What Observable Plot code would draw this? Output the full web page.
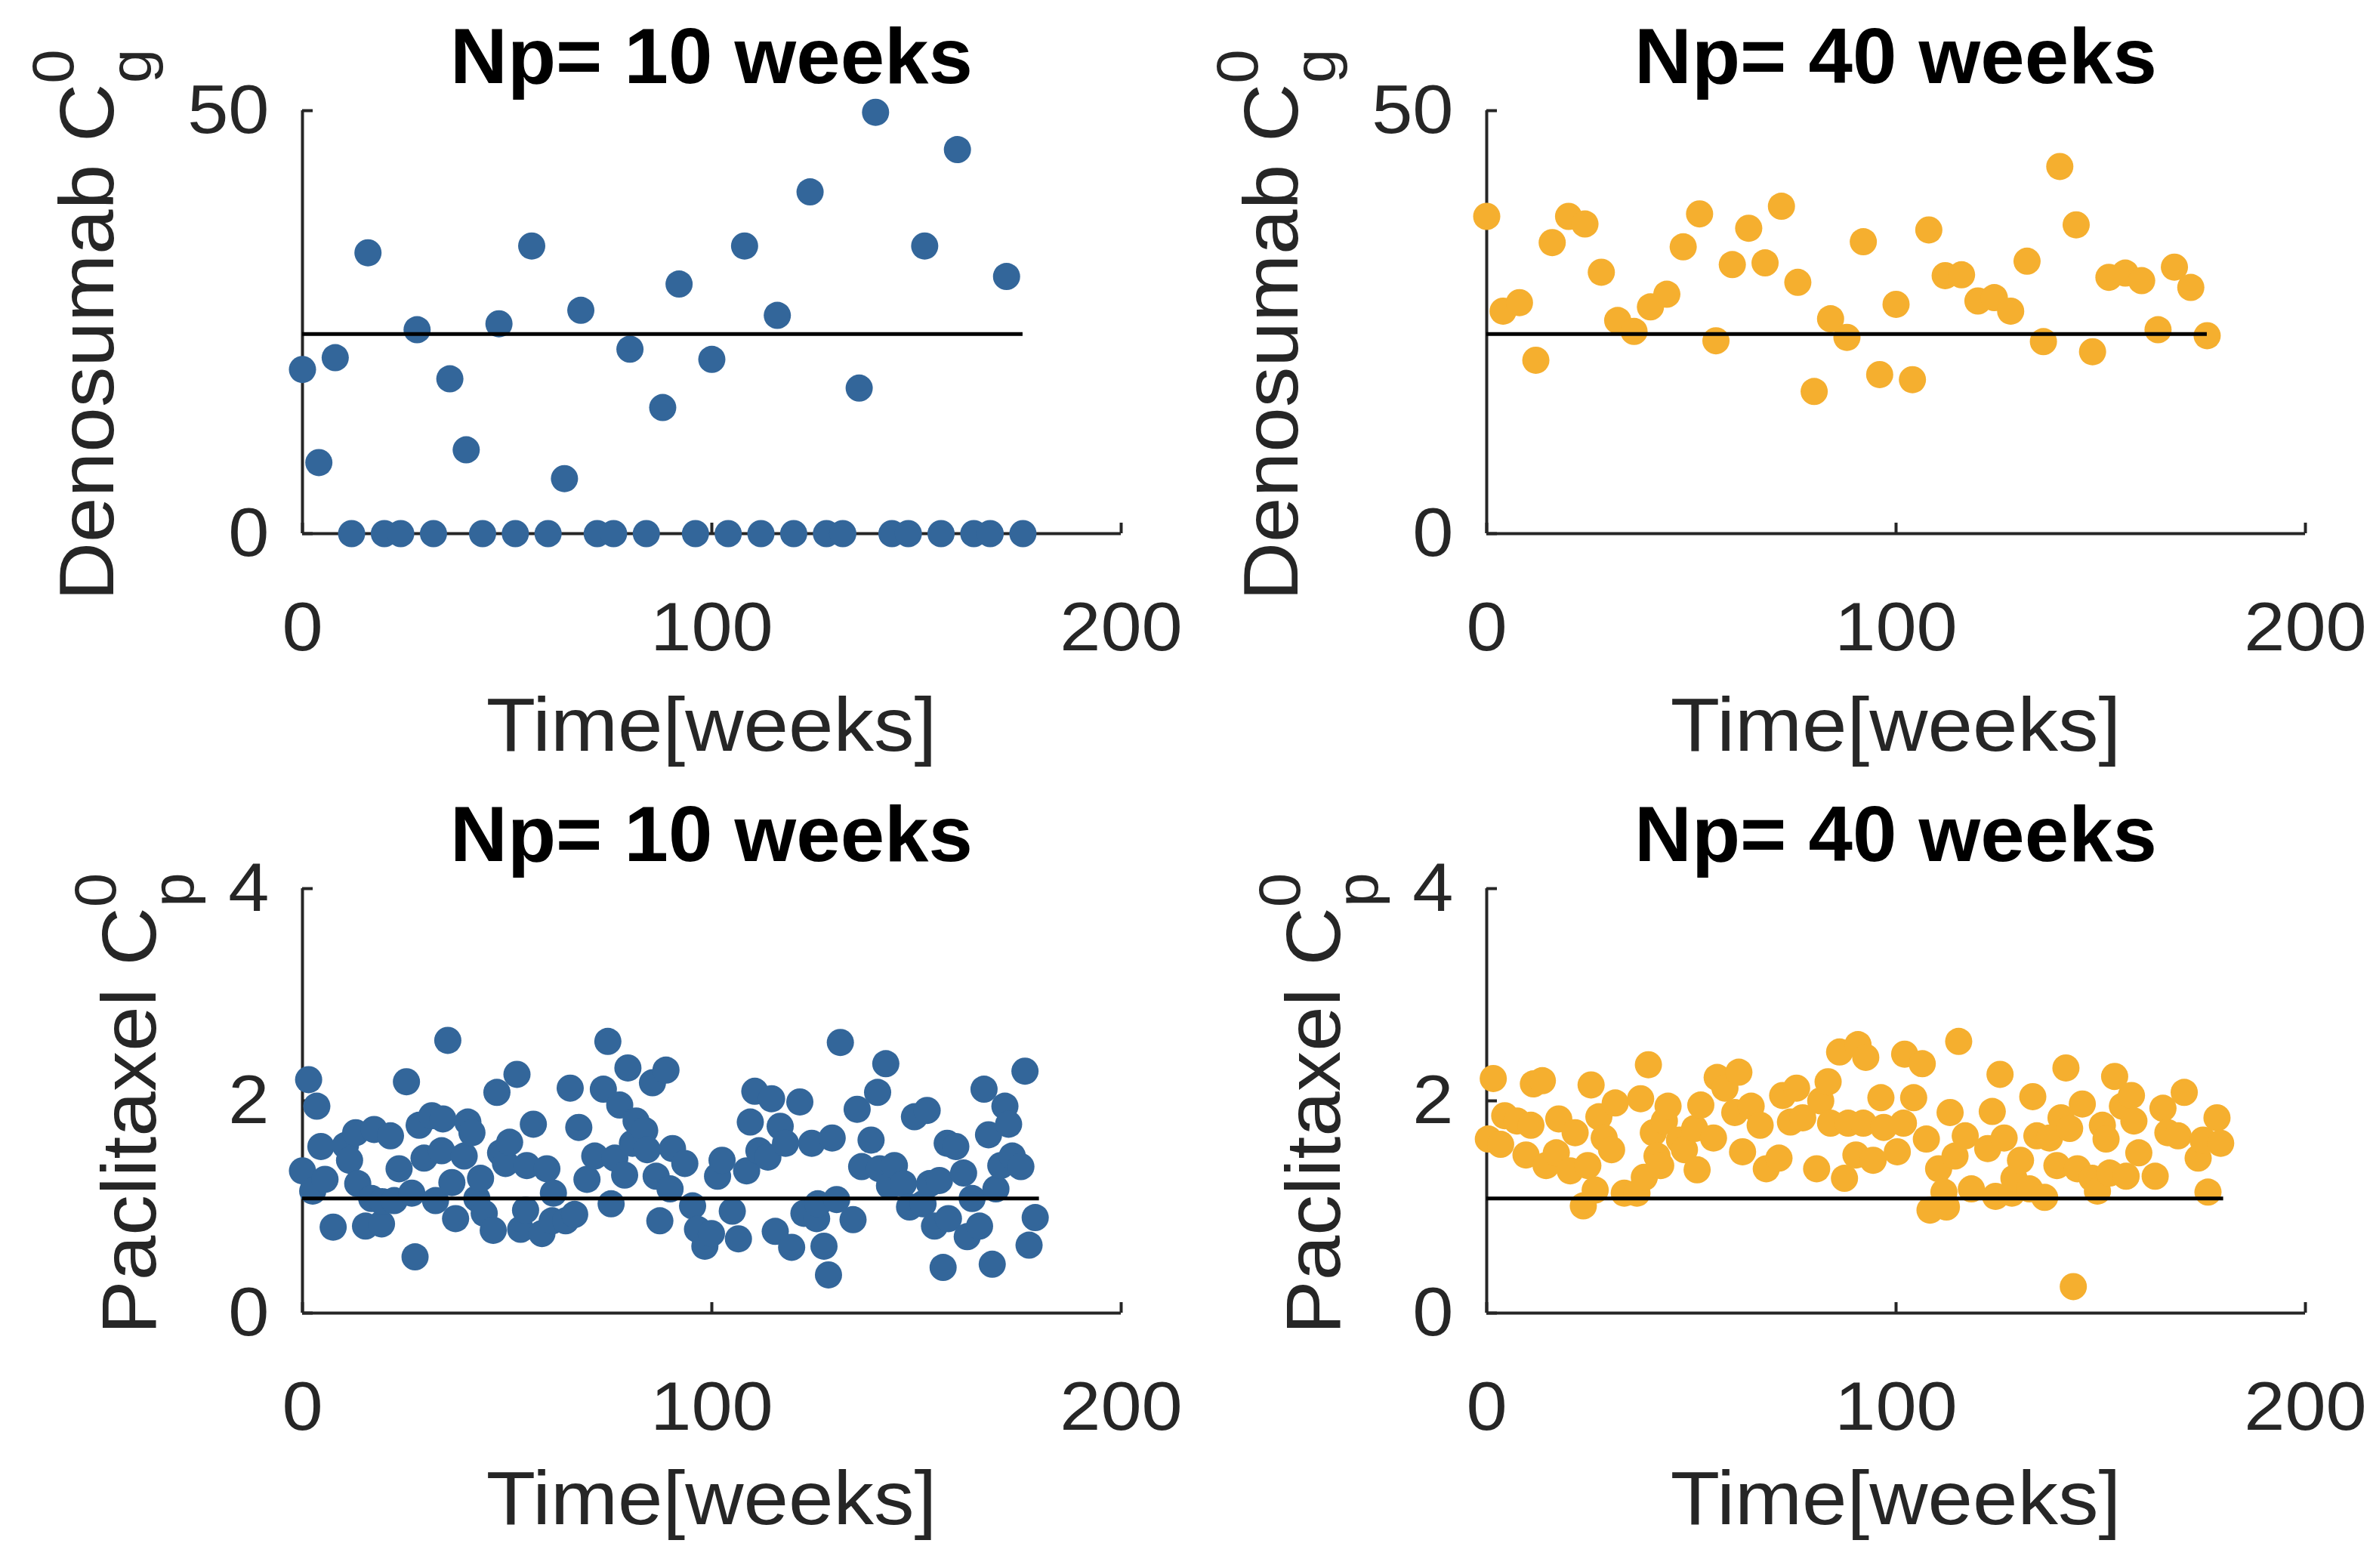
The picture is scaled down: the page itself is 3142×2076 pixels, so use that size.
<!DOCTYPE html>
<html><head><meta charset="utf-8">
<script src="https://cdn.jsdelivr.net/npm/d3@7"></script>
<script src="https://cdn.jsdelivr.net/npm/@observablehq/plot@0.6"></script>
<style>
html,body{margin:0;padding:0;background:#fff;}
#wrap{position:relative;width:3142px;height:2076px;background:#fff;overflow:hidden;}
#wrap svg{position:absolute;}
</style></head><body><div id="wrap"></div>
<script>
// ---------- data ----------
const topTimes = [0,4,8,12,16,20,24,28,32,36,40,44,48,52,56,60,64,68,72,76,80,84,88,92,96,100,104,108,112,116,120,124,128,132,136,140,144,148,152,156,160,164,168,172,176];
const denoNp10 = [19.4,8.4,20.8,0,33.2,0,0,24.1,0,18.3,9.9,0,24.8,0,34.0,0,6.5,26.4,0,0,21.8,0,14.9,29.5,0,20.6,0,34.0,0,25.8,0,40.4,0,0,17.2,49.8,0,0,34.0,0,45.4,0,0,30.4,0];
const denoNp40 = [37.5,26.3,27.3,20.5,34.4,37.5,36.6,30.9,25.2,23.9,26.8,28.3,33.9,37.8,22.8,31.8,36.1,32.0,38.7,29.7,16.8,25.4,23.2,34.5,18.8,27.1,18.2,35.9,30.5,30.6,27.5,27.9,26.3,32.2,22.7,43.4,36.5,21.5,30.3,30.8,29.9,24.1,31.5,29.1,23.4];

const pacliNp10Times = [0,1.5,2.5,3.5,4.5,5.5,7.5,10.5,11.5,13,13.5,15.4,16.9,17.5,19.3,19.5,21.5,22.4,23.6,25.4,26.7,27.5,28.5,29.7,31.6,32.5,34,34.3,35.5,36.5,37.4,39.5,40.4,41.4,42.6,43.5,44.4,46.6,47.5,48.4,49.6,50.6,52.4,53.3,54.5,54.8,56.4,58.5,59.7,61,61.3,64.3,65.4,66.5,67.5,69.5,71.4,73.5,74.6,75.4,76.3,77.5,78.7,79.5,80.6,81.5,83.6,84.2,85.5,86.4,87.3,88.8,89.8,90.4,93.4,95.3,96.5,98.3,99.9,101.4,102.5,105,106.5,108.5,109.4,110.5,111.5,113.7,114.6,115.5,116.7,118,119.5,121.5,122.5,124.4,125.6,125.9,127.4,128.5,129.4,130.5,131.4,134.5,135.5,136.6,138.9,140.5,141,142.5,143.4,144.6,146.8,148.3,149.5,151.6,152.6,153.2,154.4,155.6,156.5,157.5,157.8,159.6,161.5,162.4,163.6,165.4,166.5,167.6,168.5,169.4,170.6,171.6,172.5,173.4,175.5,176.5,177.5,179];
const pacliNp10 = [1.34,2.2,1.15,1.95,1.57,1.26,0.81,1.58,1.44,1.7,1.22,0.82,1.08,1.73,0.84,1.05,1.67,1.06,1.36,2.18,1.13,0.53,1.77,1.46,1.86,1.06,1.53,1.83,2.57,1.23,0.89,1.48,1.80,1.70,1.08,1.27,0.94,0.78,2.08,1.51,1.41,1.61,2.25,0.79,0.97,1.39,1.78,0.75,1.36,0.87,1.13,0.87,2.12,0.93,1.75,1.26,1.48,2.11,2.56,1.03,1.46,1.96,1.30,2.31,1.60,1.81,1.72,1.54,2.17,1.29,0.87,2.29,1.17,1.55,1.41,1.01,0.79,0.63,0.75,1.29,1.44,0.96,0.70,1.34,1.80,2.09,1.53,1.47,2.02,0.77,1.76,1.60,0.62,1.99,0.94,1.60,0.89,1.03,0.63,0.36,1.65,1.07,2.55,0.88,1.92,1.38,1.63,2.08,1.36,2.35,1.20,1.39,1.22,1.00,1.85,1.03,1.91,1.22,0.82,1.25,0.43,1.60,0.89,1.57,1.32,0.72,1.08,0.82,2.11,1.68,0.46,1.17,1.39,1.95,1.78,1.48,1.38,2.28,0.64,0.90];

const pacliNp40Times = [0.4,1.6,3.4,4.4,7.4,9.6,10.8,11.4,13.6,14.5,17,17.6,20.4,21.6,23.6,24.7,25.5,26.5,27.4,28.7,30.5,31.4,33.6,36.7,37.6,38.5,39.5,40.7,41.6,42.5,43.4,44.3,47.1,48.3,50.8,51.4,52.3,55.4,56.3,58.2,60.6,61.6,62.5,64.6,66.8,68.3,71.4,72.3,74.2,75.7,77.2,80.6,81.6,83.4,84,86.2,87.4,88.3,90.2,90.7,92,92.6,94.4,96.3,97,100.3,101.8,102.1,104.3,106.4,107.4,108.3,110.4,111.7,112.3,113.2,114.4,115.3,116.9,118.4,122.4,123.5,124.3,125.4,126.4,128.3,128.8,130.4,132.6,133.4,134.4,136.3,137.5,139.3,140.3,141.5,142.4,143.3,144.3,145.5,147.9,149.2,150.4,151.3,152.2,153.4,155.3,156.2,157.5,158.1,159.3,163.3,165.2,166.4,168.9,170.4,173.8,175,176.2,178.4,179.3];
const pacliNp40 = [1.64,2.21,1.59,1.86,1.81,1.49,1.77,2.16,2.19,1.39,1.51,1.83,1.34,1.70,1.01,1.39,2.15,1.16,1.85,1.65,1.54,1.98,1.13,1.13,2.02,1.28,2.34,1.70,1.48,1.39,1.81,1.95,1.63,1.54,1.74,1.35,1.96,1.65,2.22,2.12,1.89,2.27,1.52,1.95,1.77,1.36,1.46,2.05,1.80,2.12,1.84,1.36,2.00,2.18,1.79,2.46,1.27,1.79,1.49,2.53,1.79,2.41,1.44,2.03,1.75,1.52,1.79,2.44,2.03,2.35,1.64,0.97,1.36,1.14,1.00,1.89,1.48,2.56,1.67,1.17,1.55,1.90,1.10,2.25,1.65,1.13,1.27,1.44,1.17,2.04,1.67,1.09,1.65,1.39,1.84,2.31,1.74,0.25,1.36,1.97,1.27,1.15,1.77,1.64,1.32,2.23,1.95,1.29,2.05,1.81,1.51,1.29,1.93,1.70,1.67,2.08,1.46,1.63,1.14,1.84,1.60];

const denoTarget = 23.6, denoTargetEnd = 176;
const pacliTarget = 1.08, pacliTargetEnd = 180;
const xTicks = [0, 100, 200];
const denoTicks = [0, 50];
const pacliTicks = [0, 2, 4];
const titles = ["Np= 10 weeks", "Np= 40 weeks"];
const xLabel = "Time[weeks]";

// ---------- drawing ----------
const FONT = "'Liberation Sans', Arial, Helvetica, sans-serif";
const AX = "#262626";
const W = 1571, H = 1038;
const STRETCH = 1.07;
const wrap = document.getElementById("wrap");

function panel(o) {
  const data = o.times.map((t, i) => ({t, v: o.values[i]}));
  const svg = Plot.plot({
    width: W, height: H,
    marginTop: o.mt, marginBottom: o.mb, marginLeft: o.ml, marginRight: o.mr,
    x: {domain: [0, 200]},
    y: {domain: o.yDomain},
    style: {fontFamily: FONT, fontSize: "91px", background: "white", overflow: "visible", color: AX},
    marks: [
      Plot.ruleX([0], {stroke: AX, strokeWidth: 4}),
      Plot.ruleY([o.yDomain[0]], {stroke: AX, strokeWidth: 4}),
      Plot.axisX({ticks: xTicks, tickSize: -14, tickPadding: 104, strokeWidth: 4, stroke: AX, fill: AX, label: null, tickFormat: d => String(d)}),
      Plot.axisY({ticks: o.yTicks, tickSize: -14, tickPadding: 58, strokeWidth: 4, stroke: AX, fill: AX, label: null, tickFormat: d => String(d)}),
      Plot.dot(data, {x: "t", y: "v", r: 18, fill: o.color, stroke: null}),
      Plot.ruleY([o.target], {x1: 0, x2: o.targetEnd, stroke: "black", strokeWidth: 5})
    ]
  });
  svg.style.left = o.left + "px";
  svg.style.top = o.top + "px";
  const s = d3.select(svg);
  // widen the tick labels slightly, like the reference's font
  s.selectAll("g[aria-label$='tick label'] text").each(function() {
    const t = this.getAttribute("transform") || "";
    this.setAttribute("transform", t + ` scale(${STRETCH},1)`);
  });
  const cx = (o.ml + (W - o.mr)) / 2;
  s.append("text").attr("transform", `translate(${cx},${o.titleY}) scale(1.01,1)`)
    .attr("text-anchor", "middle").attr("font-family", FONT).attr("font-weight", "bold")
    .attr("font-size", 104).attr("fill", "black").text(o.title);
  s.append("text").attr("transform", `translate(${cx},${o.xLabelY}) scale(${STRETCH},1)`)
    .attr("text-anchor", "middle").attr("font-family", FONT)
    .attr("font-size", 100).attr("fill", AX).text(xLabel);
  const cy = (o.mt + (H - o.mb)) / 2 + 4;
  const yl = s.append("text").attr("transform", `translate(${o.yLabelX},${cy}) rotate(-90) scale(1.05,1)`)
    .attr("text-anchor", "middle").attr("font-family", FONT)
    .attr("font-size", 102).attr("fill", AX);
  yl.append("tspan").text(o.yMain + " C");
  yl.append("tspan").attr("font-size", 78).attr("dy", -53).text("0");
  yl.append("tspan").attr("font-size", 78).attr("dx", -43).attr("dy", 103).text(o.ySub);
  wrap.appendChild(svg);
}

const blue = "#33669a", orange = "#f5af2f";
panel({times: topTimes, values: denoNp10, color: blue, yDomain: [0, 50], yTicks: denoTicks,
  target: denoTarget, targetEnd: denoTargetEnd, title: titles[0], yMain: "Denosumab", ySub: "g",
  left: 0, top: 0, mt: 146, mb: 332, ml: 400, mr: 87, titleY: 110, xLabelY: 994, yLabelX: 150});
panel({times: topTimes, values: denoNp40, color: orange, yDomain: [0, 50], yTicks: denoTicks,
  target: denoTarget, targetEnd: denoTargetEnd, title: titles[1], yMain: "Denosumab", ySub: "g",
  left: 1571, top: 0, mt: 146, mb: 332, ml: 397, mr: 90, titleY: 110, xLabelY: 994, yLabelX: 147});
panel({times: pacliNp10Times, values: pacliNp10, color: blue, yDomain: [0, 4], yTicks: pacliTicks,
  target: pacliTarget, targetEnd: pacliTargetEnd, title: titles[0], yMain: "Paclitaxel", ySub: "p",
  left: 0, top: 1038, mt: 138, mb: 338, ml: 400, mr: 87, titleY: 102, xLabelY: 980, yLabelX: 206});
panel({times: pacliNp40Times, values: pacliNp40, color: orange, yDomain: [0, 4], yTicks: pacliTicks,
  target: pacliTarget, targetEnd: pacliTargetEnd, title: titles[1], yMain: "Paclitaxel", ySub: "p",
  left: 1571, top: 1038, mt: 138, mb: 338, ml: 397, mr: 90, titleY: 102, xLabelY: 980, yLabelX: 203});
</script></body></html>
